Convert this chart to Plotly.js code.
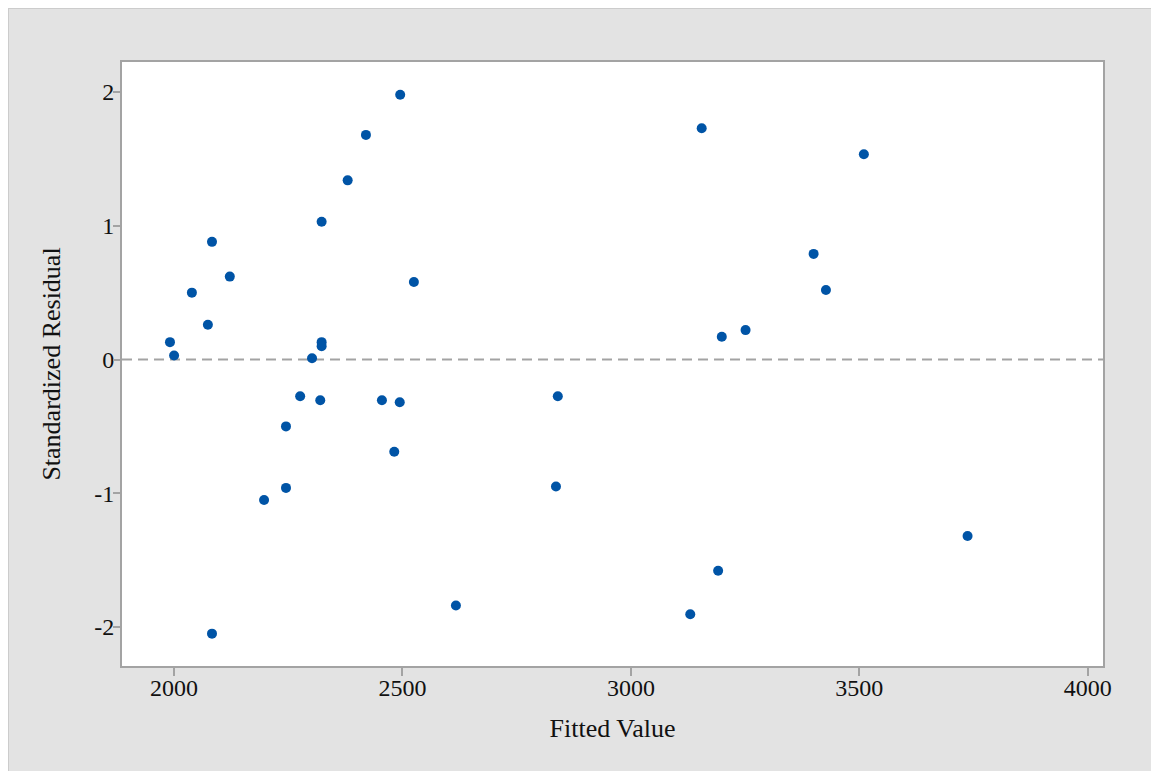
<!DOCTYPE html>
<html>
<head>
<meta charset="utf-8">
<script src="https://cdn.plot.ly/plotly-3.0.1.min.js"></script>
<style>
  html, body { margin: 0; padding: 0; background: #ffffff; width: 1151px; height: 771px; overflow: hidden; }
  #chart { position: absolute; left: 9px; top: 9px; width: 1142px; height: 762px; outline: 1px solid #cccccc; }
</style>
</head>
<body>
<div id="chart"></div>
<script>
// Fitted values (x) and standardized residuals (y)
const fittedValues = [
  2495, 2420, 2380, 2323, 2083, 2122, 2039, 2525, 2074, 1991, 2000, 2323, 2323, 2302,
  2276, 2320, 2455, 2494, 2245, 2482, 2245, 2197, 2617, 2083,
  2840, 2836, 3155, 3510, 3400, 3427, 3251, 3199, 3737, 3191, 3130
];
const standardizedResiduals = [
  1.98, 1.68, 1.34, 1.03, 0.88, 0.62, 0.50, 0.58, 0.26, 0.13, 0.03, 0.13, 0.10, 0.01,
  -0.275, -0.305, -0.305, -0.32, -0.50, -0.69, -0.96, -1.05, -1.84, -2.05,
  -0.275, -0.95, 1.73, 1.535, 0.79, 0.52, 0.22, 0.17, -1.32, -1.58, -1.905
];
const xTicks = [2000, 2500, 3000, 3500, 4000];
const yTicks = [-2, -1, 0, 1, 2];

const fontFamily = '"Liberation Serif", "Times New Roman", serif';
const axisColor = '#a3a3a3';
const xRange = [1886, 4033.5];
const yRange = [-2.292, 2.225];

const trace = {
  type: 'scatter',
  mode: 'markers',
  x: fittedValues,
  y: standardizedResiduals,
  marker: { color: '#0054a6', size: 10, line: { width: 0 } },
  hoverinfo: 'x+y'
};
// invisible companion trace so the tick-mark overlay axes are drawn
const tickTrace = {
  type: 'scatter',
  mode: 'markers',
  x: fittedValues,
  y: standardizedResiduals,
  xaxis: 'x2',
  yaxis: 'y2',
  marker: { opacity: 0, size: 1 },
  hoverinfo: 'skip'
};

const layout = {
  width: 1142,
  height: 762,
  margin: { l: 113, r: 48, t: 53, b: 105 },
  paper_bgcolor: '#e3e3e3',
  plot_bgcolor: '#ffffff',
  showlegend: false,
  font: { family: fontFamily, size: 24, color: '#111111' },
  xaxis: {
    range: xRange,
    tickmode: 'array',
    tickvals: xTicks,
    ticktext: xTicks.map(String),
    ticks: 'outside',
    ticklen: 3,
    tickwidth: 2,
    tickcolor: axisColor,
    ticklabelstandoff: -4,
    showline: true,
    linecolor: axisColor,
    linewidth: 2,
    mirror: true,
    showgrid: false,
    zeroline: false,
    tickfont: { family: fontFamily, size: 24, color: '#111111' },
    title: { text: 'Fitted Value', font: { family: fontFamily, size: 26, color: '#111111' }, standoff: 19 }
  },
  yaxis: {
    range: yRange,
    tickmode: 'array',
    tickvals: yTicks,
    ticktext: yTicks.map(String),
    ticks: 'outside',
    ticklen: 3,
    tickwidth: 2,
    tickcolor: axisColor,
    ticklabelstandoff: -2,
    showline: true,
    linecolor: axisColor,
    linewidth: 2,
    mirror: true,
    showgrid: false,
    zeroline: false,
    tickfont: { family: fontFamily, size: 24, color: '#111111' },
    title: { text: 'Standardized Residual', font: { family: fontFamily, size: 26, color: '#111111' }, standoff: 26 }
  },
  xaxis2: {
    overlaying: 'x', anchor: 'y', side: 'bottom',
    range: xRange, tickmode: 'array', tickvals: xTicks,
    ticks: 'outside', ticklen: 9, tickwidth: 2, tickcolor: axisColor,
    showticklabels: false, showline: false, showgrid: false, zeroline: false
  },
  yaxis2: {
    overlaying: 'y', anchor: 'x', side: 'left',
    range: yRange, tickmode: 'array', tickvals: yTicks,
    ticks: 'outside', ticklen: 8, tickwidth: 2, tickcolor: axisColor,
    showticklabels: false, showline: false, showgrid: false, zeroline: false
  },
  shapes: [{
    type: 'line', xref: 'paper', x0: 0, x1: 1, yref: 'y', y0: 0, y1: 0,
    line: { color: '#a3a3a3', width: 2, dash: '10px,6px' },
    layer: 'below'
  }]
};

Plotly.newPlot('chart', [trace, tickTrace], layout, { displayModeBar: false, staticPlot: true });
</script>
</body>
</html>
